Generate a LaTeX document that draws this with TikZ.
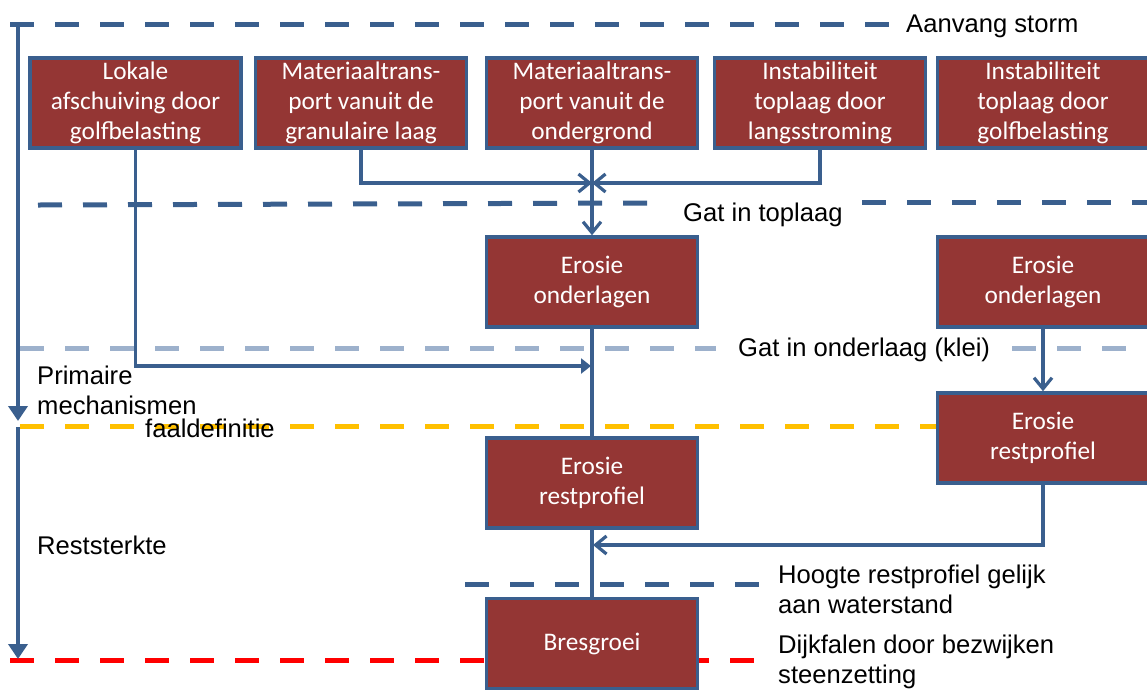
\documentclass[tikz,border=0pt]{standalone}
\usepackage{fontspec}
\setmainfont{Liberation Sans}
\newfontfamily\boxfont{Carlito}
\usetikzlibrary{arrows.meta}
\definecolor{dblue}{HTML}{3A5F8E}
\definecolor{lblue}{HTML}{9DB1CC}
\definecolor{boxred}{HTML}{943634}
\definecolor{ygold}{HTML}{FFC000}
\definecolor{rred}{HTML}{FF0000}
\tikzset{
  stepbox/.style={draw=dblue, line width=3.5pt, fill=boxred, text=white,
    minimum width=211pt, minimum height=90pt, inner sep=0pt, align=center,
    font=\boxfont\fontsize{25.3}{30}\selectfont},
  lbl/.style={anchor=west, inner sep=0pt, align=left, text=black,
    font=\fontsize{25.6}{30}\selectfont},
  conn/.style={draw=dblue, line width=3.2pt},
  barb/.style={-{Straight Barb[length=11pt,width=18pt]}},
  tri/.style={-{Triangle[length=15pt,width=19pt]}},
  smalltri/.style={-{Triangle[length=10pt,width=15pt]}},
  dashline/.style={line width=5pt, dash pattern=on 24pt off 21pt},
}
\begin{document}
\begin{tikzpicture}[x=1pt,y=-1pt]
\useasboundingbox (0,0) rectangle (1147,689);

% dashed level lines
\draw[dashline, dblue] (10,24) -- (897,24);
\draw[dashline, dblue] (38,205) -- (652,203);
\draw[dashline, dblue] (862,202) -- (1147,202);
\draw[dashline, lblue] (20,348) -- (716,348);
\draw[dashline, lblue] (1012,348) -- (1140,348);
\draw[dashline, ygold] (20,426) -- (937,426);
\draw[dashline, dblue] (465,584) -- (760,584);
\draw[dashline, rred] (10,660) -- (760,660);

% left time axis
\coordinate (s0) at (18,24);
\coordinate (s1) at (18,421);
\coordinate (s2) at (18,427);
\coordinate (s3) at (18,659);
\draw[conn, line width=4pt, tri] (s0) -- (s1);
\draw[conn, line width=4pt, tri] (s2) -- (s3);

% boxes
\node[stepbox] (b1) at (135.5,103) {Lokale\\afschuiving door\\golfbelasting};
\node[stepbox] (b2) at (361,103) {Materiaaltrans-\\port vanuit de\\granulaire laag};
\node[stepbox] (b3) at (592,103) {Materiaaltrans-\\port vanuit de\\ondergrond};
\node[stepbox] (b4) at (820,103) {Instabiliteit\\toplaag door\\langsstroming};
\node[stepbox] (b5) at (1043,103) {Instabiliteit\\toplaag door\\golfbelasting};
\node[stepbox] (eo1) at (592,282) {Erosie\\onderlagen};
\node[stepbox] (eo2) at (1043,282) {Erosie\\onderlagen};
\node[stepbox] (er1) at (592,483) {Erosie\\restprofiel};
\node[stepbox] (er2) at (1043,438) {Erosie\\restprofiel};
\node[stepbox] (bres) at (592,643.5) {Bresgroei};

% connectors
\coordinate (j) at (592,183);
\coordinate (k) at (591,366);
\coordinate (m) at (593,545);
\draw[conn, barb] (b2.south) |- (j);
\draw[conn, barb] (b4.south) |- (j);
\draw[conn, barb] (b3.south) -- (eo1.north);
\draw[conn, smalltri] (b1.south) |- (k);
\draw[conn] (eo1.south) -- (er1.north);
\draw[conn] (er1.south) -- (bres.north);
\draw[conn, barb] (eo2.south) -- (er2.north);
\draw[conn, barb] (er2.south) |- (m);

% labels
\node[lbl] (l1) at (906,26) {Aanvang storm};
\node[lbl] (l2) at (683,215) {Gat in toplaag};
\node[lbl] (l3) at (738,350) {Gat in onderlaag (klei)};
\node[lbl] (l4) at (37,390) {Primaire\\mechanismen};
\node[lbl] (l5) at (145,428) {faaldefinitie};
\node[lbl] (l6) at (37,545) {Reststerkte};
\node[lbl] (l7) at (778,589) {Hoogte restprofiel gelijk\\aan waterstand};
\node[lbl] (l8) at (778,662) {Dijkfalen door bezwijken\\steenzetting};
\end{tikzpicture}
\end{document}
